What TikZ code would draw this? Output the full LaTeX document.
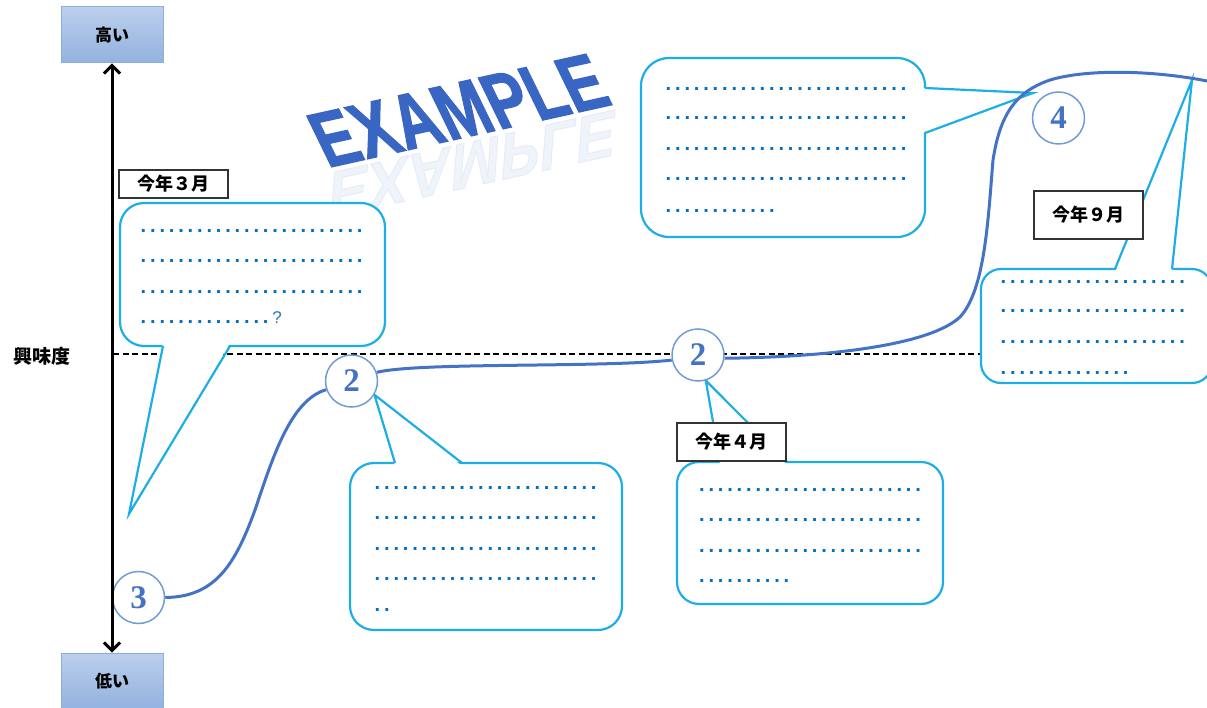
\documentclass[tikz,border=0pt]{standalone}
\usepackage{fontspec}
\usetikzlibrary{arrows.meta}
\newfontfamily\jp{Noto Sans CJK JP}
\newfontfamily\lsans{Liberation Sans}
\newfontfamily\exfont{Liberation Sans}[BoldFeatures={FakeBold=1.6}]
\newfontfamily\lserif{Liberation Serif}
\definecolor{cbl}{RGB}{30,174,230}
\definecolor{curveblue}{RGB}{68,114,196}
\definecolor{ringblue}{RGB}{112,156,214}
\definecolor{dotblue}{RGB}{0,112,192}
\definecolor{qblue}{RGB}{46,117,182}
\definecolor{boxtop}{RGB}{188,207,236}
\definecolor{boxbot}{RGB}{146,178,222}
\definecolor{boxline}{RGB}{140,174,220}
\definecolor{exblue}{RGB}{56,102,194}
\newcount\dotcnt
\newcommand\dotrow[1]{\dotcnt=0\relax\loop\makebox[9.4pt][l]{.}\advance\dotcnt by 1\relax\ifnum\dotcnt<#1\repeat}
\pgfdeclarelayer{bg}
\pgfdeclarelayer{mid}
\pgfsetlayers{bg,mid,main}
\begin{document}
\begin{tikzpicture}[x=1pt,y=-1pt,
  cbox/.style={draw=cbl,line width=2.2pt,fill=white,inner sep=0pt},
  tailline/.style={draw=cbl,line width=2.2pt,line join=miter},
  mcurve/.style={draw=curveblue,line width=3pt},
  ring/.style={circle,draw=ringblue,line width=1.5pt,fill=white,minimum size=52pt,inner sep=0pt,font=\lserif\bfseries\fontsize{33}{33}\selectfont,text=curveblue},
  month/.style={draw=black!80,line width=1.5pt,fill=white,minimum width=109pt,inner sep=0pt,font=\jp\bfseries\fontsize{18}{18}\selectfont},
  lvlbox/.style={draw=boxline,line width=1pt,top color=boxtop,bottom color=boxbot,minimum width=102pt,minimum height=56pt,inner sep=0pt,font=\jp\bfseries\fontsize{17}{17}\selectfont},
  dotline/.style={font=\lsans\bfseries\fontsize{20}{20}\selectfont,text=dotblue,inner sep=0pt,anchor=base west}]
\useasboundingbox (0,0) rectangle (1207,708);
\clip (0,0) rectangle (1207,708);

% ---- circles (main layer, on top)
\node[ring] (c3) at (138.5,597.5) {3};
\node[ring] (n2a) at (351.5,381) {2};
\node[ring] (n2b) at (698,355) {2};
\node[ring] (n4) at (1058.5,118) {4};

% ---- level boxes and axis
\node[lvlbox] (high) at (112,35) {高い};
\node[lvlbox] (low) at (112,681) {低い};
\draw[line width=3pt,{Straight Barb[length=8pt,width=16pt]}-{Straight Barb[length=8pt,width=16pt]}] (high) -- (low);
\node[font=\jp\bfseries\fontsize{19}{19}\selectfont] (axis) at (42,356) {興味度};

% ---- month labels
\node[month,minimum height=28pt] (m3) at (173.5,184) {今年３月};
\node[month,minimum height=38pt] (m4) at (731.5,442) {今年４月};
\node[month,minimum height=48pt] (m9) at (1088.5,215) {今年９月};

\begin{pgfonlayer}{bg}
\coordinate (dl) at (113,354);
\coordinate (dr) at (1000,354);
\draw[line width=2.2pt,dash pattern=on 6pt off 3.5pt] (dl) -- (dr);
\node[font=\exfont\bfseries\fontsize{80}{80}\selectfont,text=exblue,anchor=base,inner sep=0pt,
      rotate=12.5,xslant=-0.24,xscale=0.76] (ex) at (471,136) {EXAMPLE};
\node[font=\exfont\bfseries\fontsize{80}{80}\selectfont,text=exblue,anchor=base,inner sep=0pt,opacity=0.08,
      rotate=12.5,yscale=-0.8,xslant=-0.24,xscale=0.76] (exr) at (474,141) {EXAMPLE};
\end{pgfonlayer}

\begin{pgfonlayer}{mid}
% callout bodies
\node[cbox,rounded corners=24pt,minimum width=265pt,minimum height=143pt] (b1) at (252.5,274.5) {};
\node[cbox,rounded corners=24pt,minimum width=272pt,minimum height=167pt] (b2) at (486,546.5) {};
\node[cbox,rounded corners=22pt,minimum width=266pt,minimum height=142pt] (b3) at (810,533) {};
\node[cbox,rounded corners=28pt,minimum width=284pt,minimum height=179pt] (b4) at (783,147.5) {};
\node[cbox,rounded corners=20pt,minimum width=231pt,minimum height=114pt] (b5) at (1096.5,326) {};

% tails
\coordinate (tip1) at (129,514);
\fill[white] (163,343) -- (tip1) -- (230,343) -- cycle;
\draw[tailline] (163,346) -- (tip1) -- (230,346);

\fill[white] (395,466) -- (n2a.-31) -- (462,466) -- cycle;
\draw[tailline] (395,463) -- (n2a.-31) -- (462,463);

\fill[white] (720,465) -- (n2b.-73) -- (787,465) -- cycle;
\draw[tailline] (720,462) -- (n2b.-73) -- (787,462);

\coordinate (tip4) at (1033,93);
\fill[white] (922,88) -- (tip4) -- (922,133) -- cycle;
\draw[tailline] (925,88) -- (tip4) -- (925,133);

\coordinate (tip5) at (1192,80);
\fill[white] (1115,272) -- (tip5) -- (1172,272) -- cycle;
\draw[tailline] (1115,269) -- (tip5) -- (1172,269);

% curve
\coordinate (cend) at (1212,82);
\draw[mcurve] (c3.east) .. controls (215,597) and (235,565) .. (255,510)
  .. controls (272,460) and (290,400) .. (n2a.199);
\draw[mcurve] (n2a.19) .. controls (420,362) and (600,368) .. (n2b.191);
\draw[mcurve] (n2b.-7) .. controls (830,357) and (930,345) .. (960,317)
  .. controls (985,290) and (988,220) .. (993,160)
  .. controls (1000,115) and (1015,92) .. (1050,80)
  .. controls (1090,68) and (1160,71) .. (cend);
\end{pgfonlayer}

% ---- dotted texts
\foreach \y/\n [count=\i] in {233/24,263/24,294/24}
  \node[dotline] (ta\i) at (140.5,\y) {\dotrow{\n}};
\node[dotline] (ta4) at (140.5,324) {\dotrow{14}{\mdseries\fontsize{17}{17}\selectfont\textcolor{qblue}{?}}};

\foreach \y/\n [count=\i] in {489/24,519/24,550/24,580/24,611/2}
  \node[dotline] (tb\i) at (374.5,\y) {\dotrow{\n}};

\foreach \y/\n [count=\i] in {491/24,521/24,552/24,582/10}
  \node[dotline] (tc\i) at (698.9,\y) {\dotrow{\n}};

\foreach \y/\n [count=\i] in {91/26,120/26,151/26,181/26,213/12}
  \node[dotline] (td\i) at (665.5,\y) {\dotrow{\n}};

\foreach \y/\n [count=\i] in {284/20,313/20,344/20,374/14}
  \node[dotline] (te\i) at (1000.5,\y) {\dotrow{\n}};
\end{tikzpicture}
\end{document}
